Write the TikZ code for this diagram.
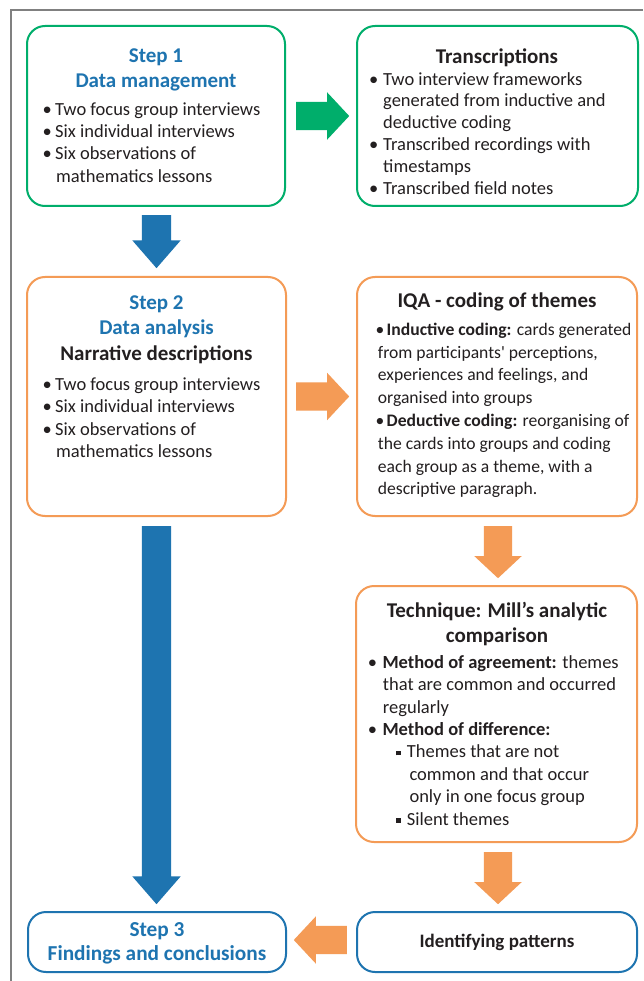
\documentclass[tikz,border=0pt]{standalone}
\usepackage{fontspec}
\setmainfont{Carlito}
\usetikzlibrary{shapes.arrows,calc}
\definecolor{cgreen}{RGB}{0,174,107}
\definecolor{cblue}{RGB}{30,116,176}
\definecolor{corange}{RGB}{244,155,86}
\definecolor{ctext}{RGB}{35,31,32}
\definecolor{cframe}{RGB}{128,128,128}
\newcommand\mybul[1]{\makebox[#1][c]{•}}
\newcommand\mysq[1]{\makebox[#1][c]{\rule[2.5pt]{4.3pt}{4.3pt}}}
\newcommand\firstln{\rule{0pt}{20pt}}
\begin{document}
\begin{tikzpicture}[x=1pt,y=-1pt,
  box/.style={draw,line width=2pt,rounded corners=18pt,inner sep=0pt,fill=white},
  ttl/.style={anchor=north,align=center,inner sep=0pt,text=ctext,font=\fontsize{21}{25}\selectfont\bfseries},
  lst/.style={anchor=north west,align=left,inner sep=0pt,text=ctext,font=\fontsize{18.5}{22.4}\selectfont},
  blkarrow/.style={single arrow,draw=none,inner xsep=0pt,inner ysep=14pt,single arrow head indent=0pt,
    single arrow head extend=9.5pt,minimum height=53pt,anchor=tail},
  garrow/.style={blkarrow,fill=cgreen,single arrow tip angle=94},
  oarrow/.style={blkarrow,fill=corange,single arrow tip angle=94},
  barrow/.style={blkarrow,fill=cblue,single arrow tip angle=82,inner ysep=14.5pt}
]
\useasboundingbox (0,0) rectangle (643,981);
\fill[white] (0,0) rectangle (643,981);
% frame
\draw[cframe,line width=1.5pt] (11,981) -- (11,10) -- (643,10);

% boxes
\node[box,draw=cgreen,minimum width=258pt,minimum height=180pt] (b1) at (156,116) {};
\node[box,draw=cgreen,minimum width=281pt,minimum height=180pt] (b2) at (497.5,116) {};
\node[box,draw=corange,minimum width=259pt,minimum height=239pt] (b3) at (156.5,396.5) {};
\node[box,draw=corange,minimum width=280pt,minimum height=239pt] (b4) at (497,396.5) {};
\node[box,draw=corange,minimum width=281pt,minimum height=256pt] (b5) at (496.5,714) {};
\node[box,draw=cblue,minimum width=258pt,minimum height=60pt] (b6) at (157,942) {};
\node[box,draw=cblue,minimum width=280pt,minimum height=60pt] (b7) at (497,942) {};

% arrows (placed by their tails)
\node[garrow] (a1) at ($(b1.east)+(10,0)$) {};
\node[barrow,rotate=-90] (a2) at ($(b1.south)+(0.5,8)$) {};
\node[oarrow] (a3) at ($(b3.east)+(9,0)$) {};
\node[oarrow,rotate=-90,minimum height=52pt] (a4) at ($(b4.south)+(1,9)$) {};
\node[barrow,rotate=-90,minimum height=378pt] (a5) at ($(b3.south)+(0,9)$) {};
\node[oarrow,rotate=-90,minimum height=52pt] (a6) at ($(b5.south)+(1.5,9)$) {};
\node[oarrow,rotate=180] (a7) at ($(b7.west)+(-9,-2)$) {};

% box 1
\node[ttl,text=cblue] (t1) at (156,42) {\firstln Step 1\\Data management};
\node[lst] (l1) at (39,95) {\firstln\mybul{16pt}Two focus group interviews\\
\mybul{16pt}Six individual interviews\\
\mybul{16pt}Six observations of\\
\hspace*{17pt}mathematics lessons};

% box 2
\node[ttl] (t2) at (497,43) {\firstln Transcriptions};
\node[lst,font=\fontsize{18.5}{21.8}\selectfont] (l2) at (364,65) {\firstln\mybul{19pt}Two interview frameworks\\
\hspace*{19pt}generated from inductive and\\
\hspace*{19pt}deductive coding\\
\mybul{19pt}Transcribed recordings with\\
\hspace*{19pt}timestamps\\
\mybul{19pt}Transcribed field notes};

% box 3
\node[ttl,font=\fontsize{21}{25.5}\selectfont\bfseries] (t3) at (156.5,289) {\firstln{\color{cblue}Step 2}\\{\color{cblue}Data analysis}\\Narrative descriptions};
\node[lst] (l3) at (39,370) {\firstln\mybul{16pt}Two focus group interviews\\
\mybul{16pt}Six individual interviews\\
\mybul{16pt}Six observations of\\
\hspace*{17pt}mathematics lessons};

% box 4
\node[ttl] (t4) at (497,287) {\firstln IQA - coding of themes};
\node[lst,font=\fontsize{17.6}{22.8}\selectfont] (l4) at (373,315) {\firstln\mybul{13.5pt}\textbf{Inductive coding:} cards generated\\
\hspace*{4.7pt}from participants\textquotesingle{} perceptions,\\
\hspace*{4.7pt}experiences and feelings, and\\
\hspace*{4.7pt}organised into groups\\
\mybul{13.5pt}\textbf{Deductive coding:} reorganising of\\
\hspace*{4.7pt}the cards into groups and coding\\
\hspace*{4.7pt}each group as a theme, with a\\
\hspace*{4.7pt}descriptive paragraph.};

% box 5
\node[ttl] (t5) at (497,597) {\firstln Technique: Mill’s analytic\\comparison};
\node[lst,font=\fontsize{18.5}{22.4}\selectfont] (l5) at (362.3,648) {\firstln\mybul{20pt}\textbf{Method of agreement:} themes\\
\hspace*{20.4pt}that are common and occurred\\
\hspace*{20.4pt}regularly\\
\mybul{20pt}\textbf{Method of difference:}\\
\hspace*{27.6pt}\mysq{16.8pt}Themes that are not\\
\hspace*{47pt}common and that occur\\
\hspace*{47pt}only in one focus group\\
\hspace*{27.6pt}\mysq{16.8pt}Silent themes};

% box 6 and 7
\node[ttl,text=cblue,font=\fontsize{21.3}{24}\selectfont\bfseries] (t6) at (157,916) {\firstln Step 3\\Findings and conclusions};
\node[ttl,font=\fontsize{19}{21}\selectfont\bfseries] (t7) at (497,927) {\firstln Identifying patterns};
\end{tikzpicture}
\end{document}
